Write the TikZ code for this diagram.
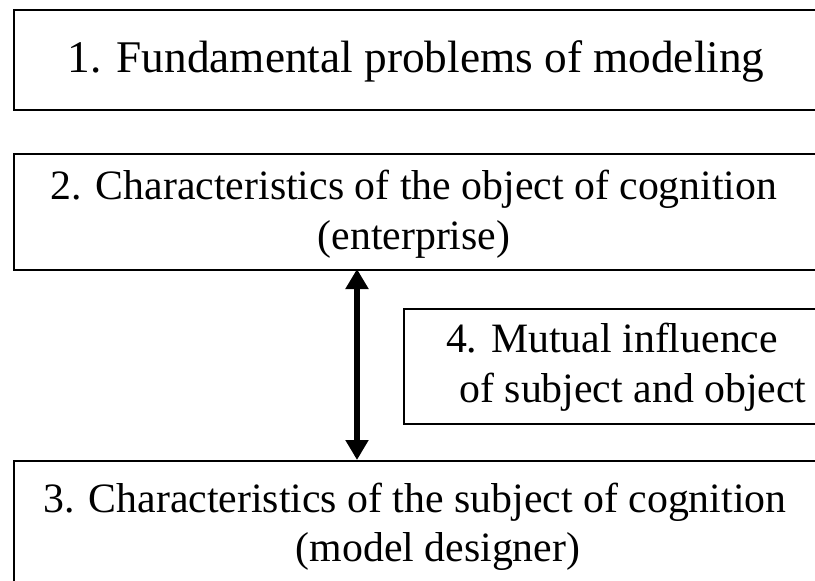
\documentclass[tikz,border=0pt]{standalone}
\usepackage{fontspec}
\setmainfont{Liberation Serif}
\usetikzlibrary{arrows.meta}
\begin{document}
\begin{tikzpicture}[x=1pt,y=-1pt,
  boxstyle/.style={draw=black,line width=2pt,rectangle,inner sep=0pt,anchor=north west},
  txt/.style={anchor=base,inner sep=0pt,font=\fontsize{41.8}{49}\selectfont},
  bigtxt/.style={anchor=base,inner sep=0pt,font=\fontsize{45.3}{52}\selectfont},
  dblarrow/.style={line width=6.5pt,{Triangle[width=22pt,length=20pt]}-{Triangle[width=22pt,length=20pt]}}]
\useasboundingbox (0,0) rectangle (815,581);
\clip (0,0) rectangle (815,581);
\node[boxstyle,minimum width=807pt,minimum height=100pt] (b1) at (13,9) {};
\node[boxstyle,minimum width=807pt,minimum height=116pt] (b2) at (13,153) {};
\node[boxstyle,minimum width=420pt,minimum height=115pt] (b4) at (403,308) {};
\node[boxstyle,minimum width=807pt,minimum height=130pt] (b3) at (13,460) {};
\node[bigtxt] (t1) at (416,72) {1. Fundamental problems of modeling};
\node[txt] (t2a) at (414,199) {2. Characteristics of the object of cognition};
\node[txt] (t2b) at (414,249) {(enterprise)};
\node[txt] (t4a) at (612,352) {4. Mutual influence};
\node[txt] (t4b) at (633,402) {of subject and object};
\node[txt] (t3a) at (415,512) {3. Characteristics of the subject of cognition};
\node[txt] (t3b) at (438,561) {(model designer)};
\coordinate (atop) at (357,269);
\coordinate (abot) at (357,460);
\draw[dblarrow] (atop) -- (abot);
\end{tikzpicture}
\end{document}
